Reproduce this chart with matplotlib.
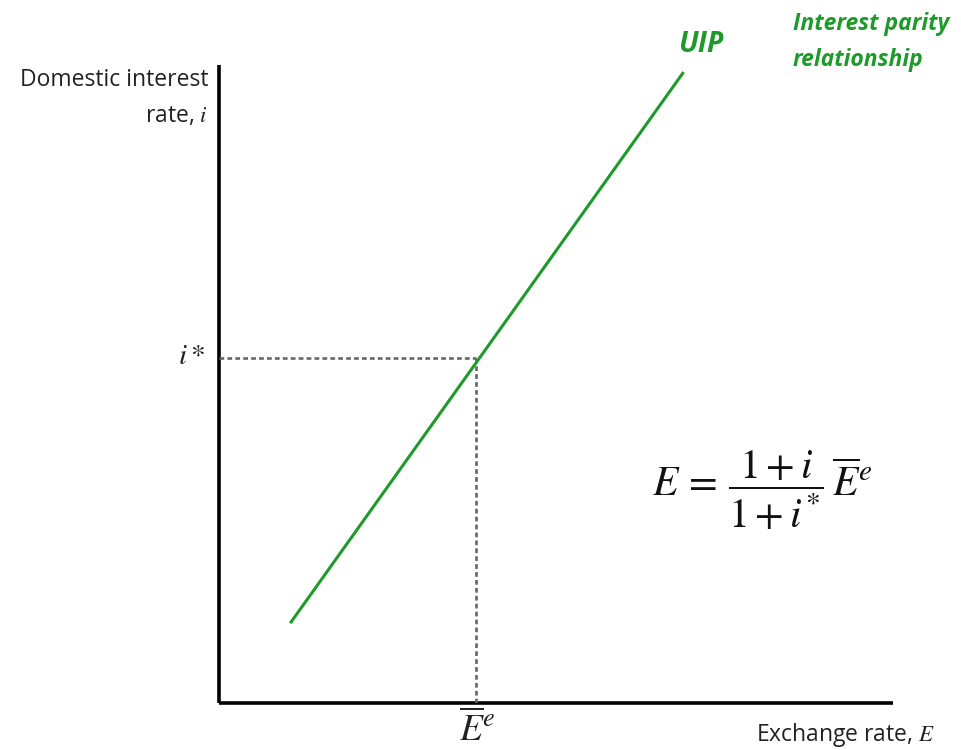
import matplotlib
matplotlib.use("Agg")
import matplotlib.pyplot as plt

# diagram values (axis units 0..10)
uip_x = [1.07, 6.88]
uip_y = [1.27, 9.87]
e_bar = 3.81
i_star = 5.41

green = '#1e9a2a'
plt.rcParams['mathtext.fontset'] = 'stix'
plt.rcParams['font.family'] = ['Open Sans', 'DejaVu Sans']

W, H = 961, 750
fig = plt.figure(figsize=(W / 100, H / 100), dpi=100)
ax = fig.add_axes([219 / W, (H - 703) / H, (893 - 219) / W, (703 - 65) / H])
ax.set_xlim(0, 10)
ax.set_ylim(0, 10)
ax.axis('off')

# axes
ax.plot([0, 0], [0, 10], color='black', lw=2.6, clip_on=False, solid_capstyle='butt')
ax.plot([0, 10], [0, 0], color='black', lw=2.6, clip_on=False, solid_capstyle='butt')

# dashed guides
ax.plot([0, e_bar], [i_star, i_star], ls=(0, (1.8, 1.2)), color='#666666', lw=1.9)
ax.plot([e_bar, e_bar], [0, i_star], ls=(0, (1.8, 1.2)), color='#666666', lw=1.9)

# UIP schedule
ax.plot(uip_x, uip_y, color=green, lw=2.2)

# labels in figure pixel coords
def px(x, y):
    return x / W, 1 - y / H

fig.text(*px(208, 80), 'Domestic interest', ha='right', va='center', fontsize=16.5, color='#222222')
fig.text(*px(208, 116), 'rate, $i$', ha='right', va='center', fontsize=16.5, color='#222222')
fig.text(*px(205, 357), '$i*$', ha='right', va='center', fontsize=21, color='#222222')
fig.text(*px(477, 731), r'$\overline{E}^e$', ha='center', va='center', fontsize=27, color='#222222')
fig.text(*px(935, 735), 'Exchange rate, $E$', ha='right', va='center', fontsize=16.5, color='#222222')

fig.text(*px(701, 44), 'UIP', ha='center', va='center', fontsize=20.5, color=green,
         fontweight='bold', fontstyle='italic')
fig.text(*px(793, 24), 'Interest parity', ha='left', va='center', fontsize=16.5, color=green,
         fontweight='bold', fontstyle='italic')
fig.text(*px(793, 60), 'relationship', ha='left', va='center', fontsize=16.5, color=green,
         fontweight='bold', fontstyle='italic')

fig.text(*px(762, 490), r'$E\,=\,\dfrac{1+i}{1+i^{*}}\,\overline{E}^{e}$', ha='center', va='center',
         fontsize=30, color='#111111')

fig.savefig('out.png', dpi=100, facecolor='white')
